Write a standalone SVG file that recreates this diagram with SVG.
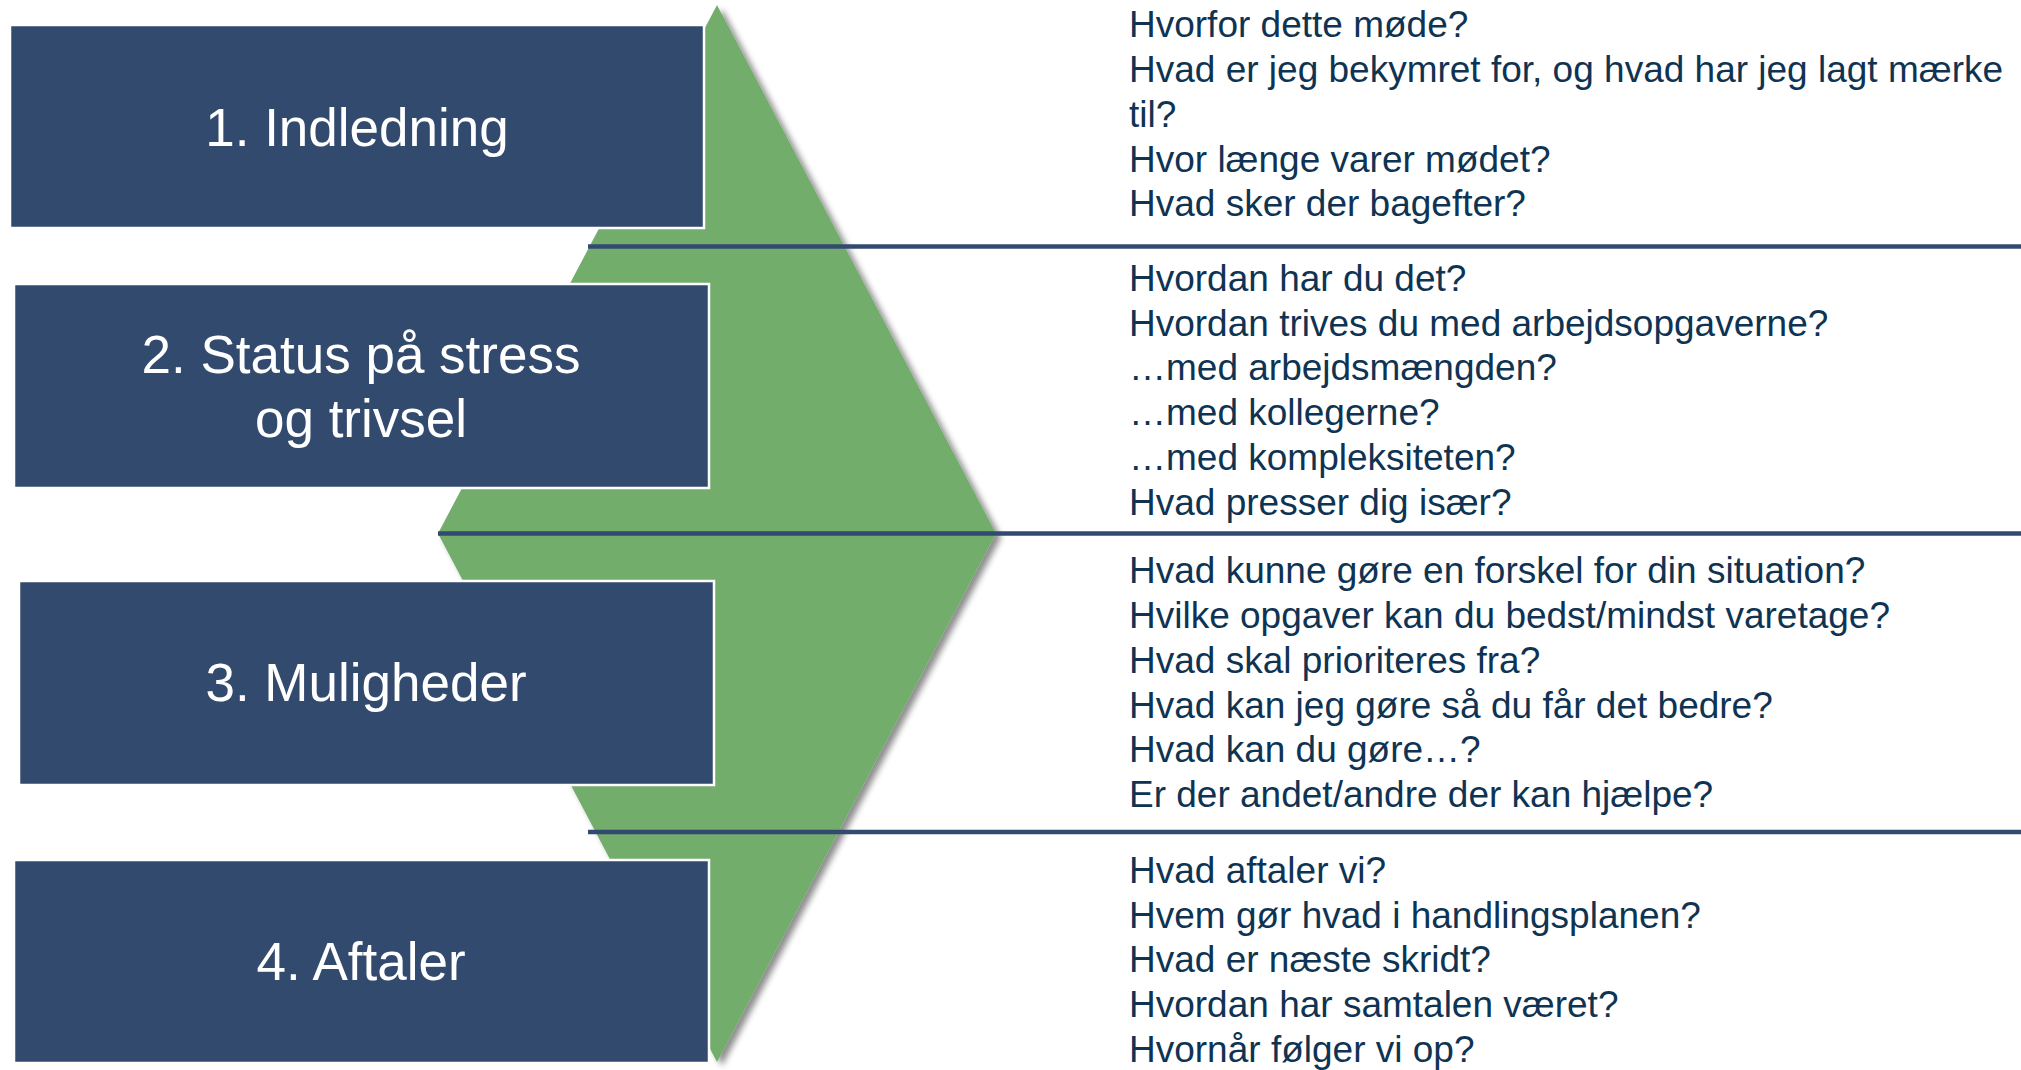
<svg xmlns="http://www.w3.org/2000/svg" width="2021" height="1070" viewBox="0 0 2021 1070">
  <defs>
    <filter id="shade" x="-10%" y="-5%" width="125%" height="115%">
      <feGaussianBlur in="SourceAlpha" stdDeviation="3"/>
      <feOffset dx="5" dy="4" result="blur"/>
      <feComponentTransfer><feFuncA type="linear" slope="0.45"/></feComponentTransfer>
      <feMerge><feMergeNode/><feMergeNode in="SourceGraphic"/></feMerge>
    </filter>
    <style>
      .step { fill: #334A6F; stroke: #FFFFFF; stroke-width: 2.5; }
      .step-label { font-family: "Liberation Sans", Arial, sans-serif; font-size: 53px; fill: #FFFFFF; text-anchor: middle; }
      .divider { stroke: #334A70; stroke-width: 4.5; }
      .q { font-family: "Liberation Sans", Arial, sans-serif; font-size: 37px; fill: #0F3352; }
    </style>
  </defs>

  <rect width="2021" height="1070" fill="#FFFFFF"/>

  <!-- green diamond behind the steps -->
  <g id="diamond">
    <polygon points="717,5 996,533.5 717,1062 438,533.5" fill="#72AD6C" filter="url(#shade)"/>
  </g>

  <!-- horizontal dividers between the question blocks -->
  <g id="connectors">
    <line class="divider" x1="588" y1="246.5" x2="2021" y2="246.5"/>
    <line class="divider" x1="438" y1="533.5" x2="2021" y2="533.5"/>
    <line class="divider" x1="588" y1="832" x2="2021" y2="832"/>
  </g>

  <g id="step1">
    <rect class="step" x="10" y="25" width="694" height="203"/>
    <text class="step-label" x="357" y="146">1. Indledning</text>
  </g>

  <g id="step2">
    <rect class="step" x="14" y="284" width="695" height="204"/>
    <text class="step-label" x="361" y="373">2. Status på stress</text>
    <text class="step-label" x="361" y="437">og trivsel</text>
  </g>

  <g id="step3">
    <rect class="step" x="19" y="581" width="695" height="204"/>
    <text class="step-label" x="366" y="701">3. Muligheder</text>
  </g>

  <g id="step4">
    <rect class="step" x="14" y="860" width="695" height="203"/>
    <text class="step-label" x="361" y="980">4. Aftaler</text>
  </g>

  <!-- question lists -->
  <g id="questions1">
    <text class="q" x="1129" y="37">Hvorfor dette møde?</text>
    <text class="q" x="1129" y="82">Hvad er jeg bekymret for, og hvad har jeg lagt mærke</text>
    <text class="q" x="1129" y="127">til?</text>
    <text class="q" x="1129" y="172">Hvor længe varer mødet?</text>
    <text class="q" x="1129" y="216">Hvad sker der bagefter?</text>
  </g>

  <g id="questions2">
    <text class="q" x="1129" y="291">Hvordan har du det?</text>
    <text class="q" x="1129" y="336">Hvordan trives du med arbejdsopgaverne?</text>
    <text class="q" x="1129" y="380">…med arbejdsmængden?</text>
    <text class="q" x="1129" y="425">…med kollegerne?</text>
    <text class="q" x="1129" y="470">…med kompleksiteten?</text>
    <text class="q" x="1129" y="515">Hvad presser dig især?</text>
  </g>

  <g id="questions3">
    <text class="q" x="1129" y="583">Hvad kunne gøre en forskel for din situation?</text>
    <text class="q" x="1129" y="628">Hvilke opgaver kan du bedst/mindst varetage?</text>
    <text class="q" x="1129" y="673">Hvad skal prioriteres fra?</text>
    <text class="q" x="1129" y="718">Hvad kan jeg gøre så du får det bedre?</text>
    <text class="q" x="1129" y="762">Hvad kan du gøre…?</text>
    <text class="q" x="1129" y="807">Er der andet/andre der kan hjælpe?</text>
  </g>

  <g id="questions4">
    <text class="q" x="1129" y="883">Hvad aftaler vi?</text>
    <text class="q" x="1129" y="928">Hvem gør hvad i handlingsplanen?</text>
    <text class="q" x="1129" y="972">Hvad er næste skridt?</text>
    <text class="q" x="1129" y="1017">Hvordan har samtalen været?</text>
    <text class="q" x="1129" y="1062">Hvornår følger vi op?</text>
  </g>
</svg>
